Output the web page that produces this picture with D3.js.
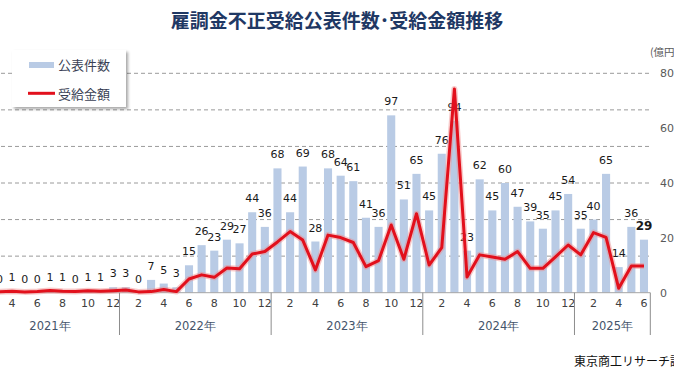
<!DOCTYPE html>
<html>
<head>
<meta charset="utf-8">
<script src="https://cdn.jsdelivr.net/npm/d3@7"></script>
<style>
  html, body { margin: 0; padding: 0; background: #ffffff; }
  svg { display: block; }
</style>
</head>
<body>
<script>
// ---- data ----
const categories = [
  "2021-03","2021-04","2021-05","2021-06","2021-07","2021-08","2021-09","2021-10","2021-11","2021-12",
  "2022-01","2022-02","2022-03","2022-04","2022-05","2022-06","2022-07","2022-08","2022-09","2022-10","2022-11","2022-12",
  "2023-01","2023-02","2023-03","2023-04","2023-05","2023-06","2023-07","2023-08","2023-09","2023-10","2023-11","2023-12",
  "2024-01","2024-02","2024-03","2024-04","2024-05","2024-06","2024-07","2024-08","2024-09","2024-10","2024-11","2024-12",
  "2025-01","2025-02","2025-03","2025-04","2025-05","2025-06"
];
// 公表件数 (件)
const counts = [
  0,1,0,0,1,1,0,1,1,3,
  3,0,7,5,3,15,26,23,29,27,44,36,
  68,44,69,28,68,64,61,41,36,97,51,65,
  45,76,94,23,62,45,60,47,39,35,45,54,
  35,40,65,14,36,29
];
// 受給金額 (億円)
const amounts = [
  0.3,0.5,0.3,0.4,0.8,0.5,0.4,0.7,0.5,0.7,
  1.0,0.3,0.4,1.2,0.4,5.0,6.5,5.6,9.0,8.7,14.1,15.0,
  18.5,22.3,19.2,8.3,21.0,20.1,18.3,9.5,11.7,24.7,12.2,28.8,
  10.1,16.4,74.3,5.7,13.8,13.0,12.2,15.0,8.9,8.9,13.1,17.4,
  13.8,21.9,20.2,1.6,9.7,9.7
];
const leftTicks = [0,20,40,60,80,100,120];
const rightTicks = [0,20,40,60,80];
const years = ["2021","2022","2023","2024","2025"];
const yearSuffix = "年";
const title = "雇調金不正受給公表件数･受給金額推移";
const legendLabels = ["公表件数","受給金額"];
const unitLabel = "(億円)";
const sourceLabel = "東京商工リサーチ調べ";

// ---- layout ----
const W = 674, H = 379;
const plotLeft = -20, plotRight = 652;
const baseY = 292.7, topY = 73.3;
const cjk = "'Noto Sans CJK JP','Noto Sans',sans-serif";
const num = "'DejaVu Sans',Verdana,sans-serif";
const barColor = "#b9cbe5";
const lineColor = "#e2101c";

const svg = d3.select("body").append("svg").attr("width", W).attr("height", H);

const defs = svg.append("defs");
const sh = defs.append("filter").attr("id","shadow").attr("x","-20%").attr("y","-20%").attr("width","150%").attr("height","160%");
sh.append("feDropShadow").attr("dx",2).attr("dy",2).attr("stdDeviation",1.8).attr("flood-color","#000").attr("flood-opacity",0.35);

const x = d3.scaleBand().domain(categories).range([-6.9, 650.3]).paddingInner(0).paddingOuter(0);
const yL = d3.scaleLinear().domain([0,120]).range([baseY, topY]);
const yR = d3.scaleLinear().domain([0,80]).range([baseY, topY]);
const cx = c => x(c) + x.step()/2;

// gridlines
svg.append("g").selectAll("line").data(leftTicks.filter(t => t > 0)).join("line")
  .attr("x1", plotLeft).attr("x2", plotRight)
  .attr("y1", d => yL(d)).attr("y2", d => yL(d))
  .attr("stroke", "#9a9a9a").attr("stroke-width", 1).attr("stroke-dasharray", "4,3");

// bars
const barW = x.bandwidth() * 0.64;
svg.append("g").selectAll("rect").data(categories).join("rect")
  .attr("x", c => cx(c) - barW/2)
  .attr("y", (c,i) => yL(counts[i]))
  .attr("width", barW)
  .attr("height", (c,i) => baseY - yL(counts[i]))
  .attr("fill", barColor);

// baseline
svg.append("line").attr("x1", plotLeft).attr("x2", x.range()[1])
  .attr("y1", baseY).attr("y2", baseY).attr("stroke", "#a6a6a6").attr("stroke-width", 1);

// value labels
svg.append("g").selectAll("text").data(categories).join("text")
  .attr("x", c => cx(c))
  .attr("y", (c,i) => yL(counts[i]) - 10)
  .attr("text-anchor", "middle")
  .attr("font-family", num)
  .attr("font-size", (c,i) => i === categories.length-1 ? 12 : 11)
  .attr("font-weight", (c,i) => i === categories.length-1 ? "bold" : "normal")
  .attr("fill", "#1a1a1a")
  .text((c,i) => counts[i]);

// line
const line = d3.line().x(c => cx(c)).y((c,i) => yR(amounts[i]));
svg.append("path").datum(categories).attr("d", line)
  .attr("fill","none").attr("stroke","#f08a8a").attr("stroke-opacity",0.45)
  .attr("stroke-width",6).attr("stroke-linejoin","round");
svg.append("path").datum(categories).attr("d", line)
  .attr("fill","none").attr("stroke",lineColor)
  .attr("stroke-width",3).attr("stroke-linejoin","round");

// month axis
const evenMonths = categories.filter(c => +c.slice(5) % 2 === 0);
const xAxis = d3.axisBottom(x).tickValues(evenMonths).tickSize(0).tickPadding(7)
  .tickFormat(c => String(+c.slice(5)));
const gx = svg.append("g").attr("transform", `translate(0,${baseY})`).call(xAxis);
gx.select(".domain").remove();
gx.selectAll("text").attr("font-family", num).attr("font-size", 11).attr("fill", "#404040");

// year dividers
const janCats = categories.filter(c => c.slice(5) === "01");
const dividers = janCats.map(c => x(c)).concat([x.range()[1]]);
svg.append("g").selectAll("line").data(dividers).join("line")
  .attr("x1", d => d).attr("x2", d => d)
  .attr("y1", baseY).attr("y2", 335)
  .attr("stroke", "#8c8c8c").attr("stroke-width", 1);

// year labels
svg.append("g").selectAll("text").data(years).join("text")
  .attr("x", yr => {
    const cs = categories.filter(c => c.startsWith(yr));
    let x0 = x(cs[0]);
    if (yr === years[0]) x0 = x(cs[0]) - x.step();
    const x1 = x(cs[cs.length-1]) + x.step();
    return (x0 + x1) / 2;
  })
  .attr("y", 329.5)
  .attr("text-anchor", "middle")
  .attr("font-family", num)
  .attr("font-size", 11.5)
  .attr("fill", "#44546a")
  .text(yr => yr + yearSuffix);

// right axis
const yAxisR = d3.axisRight(yR).tickValues(rightTicks).tickSize(0).tickPadding(0);
const gy = svg.append("g").attr("transform", "translate(660,0)").call(yAxisR);
gy.select(".domain").remove();
gy.selectAll("text").attr("font-family", num).attr("font-size", 11).attr("fill", "#595959");

svg.append("text").attr("x", 650).attr("y", 56)
  .attr("font-family", cjk).attr("font-size", 10.5).attr("fill", "#595959")
  .text(unitLabel);

// title
svg.append("text").attr("x", 337).attr("y", 28)
  .attr("text-anchor", "middle")
  .attr("font-family", cjk).attr("font-size", 19).attr("font-weight", "bold")
  .attr("fill", "#1f3864")
  .text(title);

// legend
const lg = svg.append("g");
lg.append("rect").attr("x", 12).attr("y", 50).attr("width", 114).attr("height", 57)
  .attr("fill", "#ffffff").attr("filter", "url(#shadow)");
lg.append("rect").attr("x", 29).attr("y", 62).attr("width", 25).attr("height", 6).attr("fill", barColor);
lg.append("line").attr("x1", 28).attr("x2", 55).attr("y1", 93.3).attr("y2", 93.3)
  .attr("stroke", lineColor).attr("stroke-width", 3);
lg.selectAll("text").data(legendLabels).join("text")
  .attr("x", 58).attr("y", (d,i) => i === 0 ? 70 : 98.5)
  .attr("font-family", cjk).attr("font-size", 13).attr("fill", "#3a3f55")
  .text(d => d);

// source
svg.append("text").attr("x", 574).attr("y", 366)
  .attr("font-family", cjk).attr("font-size", 12).attr("fill", "#111")
  .text(sourceLabel);
</script>
</body>
</html>
